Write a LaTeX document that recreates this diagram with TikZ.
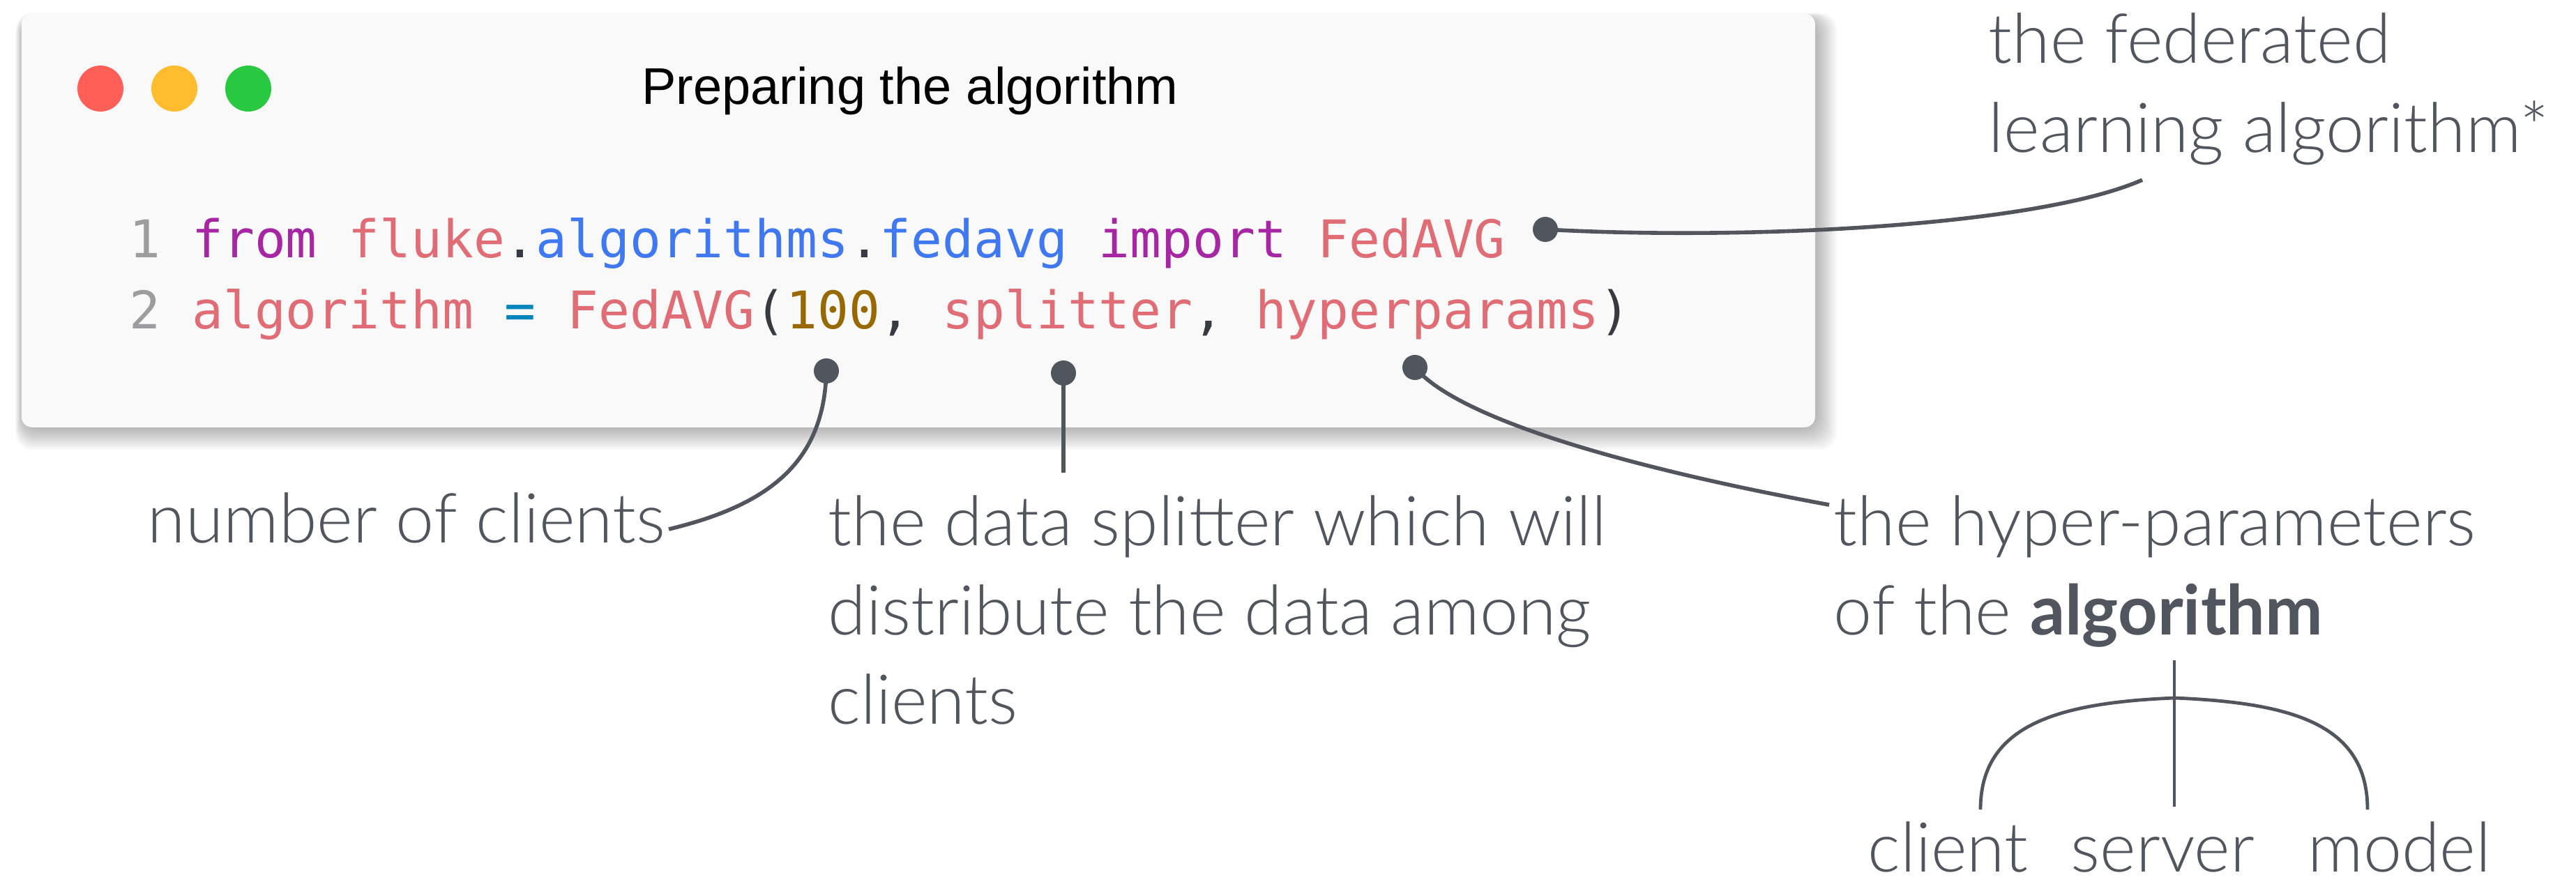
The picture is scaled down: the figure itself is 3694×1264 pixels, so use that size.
\documentclass[tikz,border=0pt]{standalone}
\usepackage{fontspec}
\IfFontExistsTF{Lato Light}
  {\setmainfont{Lato}[UprightFont=* Light, BoldFont=* Bold]}
  {\setmainfont{Lato}}
\newfontfamily\codefont{DejaVu Sans Mono}
\newfontfamily\titlefont{Liberation Sans}

\definecolor{codered}{HTML}{E06C75}
\definecolor{codeblue}{HTML}{4078F2}
\definecolor{codepurple}{HTML}{A626A4}
\definecolor{codebrown}{HTML}{986801}
\definecolor{codecyan}{HTML}{0184BC}
\definecolor{codedark}{HTML}{383A42}
\definecolor{linenum}{HTML}{9D9D9F}
\definecolor{ink}{HTML}{50555E}
\definecolor{winbg}{HTML}{F9F9F9}
\definecolor{lightred}{HTML}{FF5F57}
\definecolor{lightyellow}{HTML}{FEBC2E}
\definecolor{lightgreen}{HTML}{28C840}

\tikzset{
  codeline/.style={anchor=base west, inner sep=0pt,
    font=\codefont\fontsize{18.62pt}{25pt}\selectfont},
  note/.style={anchor=base west, inner sep=0pt, text=ink,
    font=\fontsize{24.7pt}{32pt}\selectfont},
  pin/.style={circle, fill=ink, inner sep=0pt, minimum size=9pt},
  lead/.style={draw=ink, line width=1.4pt},
  branch/.style={draw=ink, line width=1.2pt},
  trafficlight/.style={circle, inner sep=0pt, minimum size=16.5pt},
}

\begin{document}
\begin{tikzpicture}[x=0.25pt, y=-0.25pt]
  \useasboundingbox (0,0) rectangle (3694,1264);
  \fill[white] (0,0) rectangle (3694,1264);

  % soft drop shadow under the window
  \foreach \s in {1,...,12} {
    \fill[black, fill opacity=0.022, rounded corners=6pt]
      (32-\s*0.8, 26-\s*0.6) rectangle (2604+\s*2.5, 614+\s*2.6);
  }
  % editor window
  \node[draw=none, fill=winbg, rounded corners=3.75pt, inner sep=0pt,
        minimum width=643pt, minimum height=148.25pt, anchor=north west]
        (window) at (30,19) {};

  % window buttons
  \node[trafficlight, fill=lightred]    (btnred)    at (144,127) {};
  \node[trafficlight, fill=lightyellow] (btnyellow) at (250,127) {};
  \node[trafficlight, fill=lightgreen]  (btngreen)  at (356,127) {};

  \node[anchor=base, inner sep=0pt, text=black,
        font=\titlefont\fontsize{18.5pt}{22pt}\selectfont]
        (title) at (1305,149) {Preparing the algorithm};

  % code
  \node[codeline] (line1) at (185,369)
    {{\color{linenum}1} {\color{codepurple}from} {\color{codered}fluke}{\color{codedark}.}{\color{codeblue}algorithms}{\color{codedark}.}{\color{codeblue}fedavg} {\color{codepurple}import} {\color{codered}FedAVG}};
  \node[codeline] (line2) at (185,471)
    {{\color{linenum}2} {\color{codered}algorithm} {\color{codecyan}=} {\color{codered}FedAVG}{\color{codedark}(}{\color{codebrown}100}{\color{codedark},} {\color{codered}splitter}{\color{codedark},} {\color{codered}hyperparams}{\color{codedark})}};

  % annotation texts
  \node[note] (fedA) at (2851,90)  {the federated};
  \node[note] (fedB) at (2851,218) {learning algorithm*};

  \node[note] (nclients) at (211,778) {number of clients};

  \node[note] (splitA) at (1187,782)  {the data splitter which will};
  \node[note] (splitB) at (1187,910)  {distribute the data among};
  \node[note] (splitC) at (1187,1038) {clients};

  \node[note] (hypA) at (2629,782) {the hyper-parameters};
  \node[note] (hypB) at (2629,910) {of the \textbf{algorithm}};

  \node[note] (client) at (2678,1250) {client};
  \node[note] (server) at (2969,1250) {server};
  \node[note] (model)  at (3309,1250) {model};

  % pins on the code
  \node[pin] (pinfed)   at (2216,329) {};
  \node[pin] (pinnum)   at (1185,532) {};
  \node[pin] (pinsplit) at (1525,535) {};
  \node[pin] (pinhyp)   at (2029,527) {};

  % free ends of the leader lines
  \coordinate (endfed)   at (3072,258);
  \coordinate (endnum)   at (959,759);
  \coordinate (endsplit) at (1525,678);
  \coordinate (endhyp)   at (2623,724);

  \draw[lead] (pinfed.center) .. controls (2500,345) and (2920,325) .. (endfed);
  \draw[lead] (pinnum.center) .. controls (1182,665) and (1100,725) .. (endnum);
  \draw[lead] (pinsplit.center) -- (endsplit);
  \draw[lead] (pinhyp.center) .. controls (2090,600) and (2330,670) .. (endhyp);

  % split of the hyper-parameters into three parts
  \coordinate (stemtop) at (3118,947);
  \coordinate (stembot) at (3118,1157);
  \coordinate (archtop) at (3118,1001);
  \coordinate (legleft) at (2840,1161);
  \coordinate (legright) at (3395,1161);
  \draw[branch] (stemtop) -- (stembot);
  \draw[branch] (legleft) .. controls (2840,1040) and (2950,1008) .. (archtop)
                .. controls (3290,1008) and (3395,1040) .. (legright);
\end{tikzpicture}
\end{document}
